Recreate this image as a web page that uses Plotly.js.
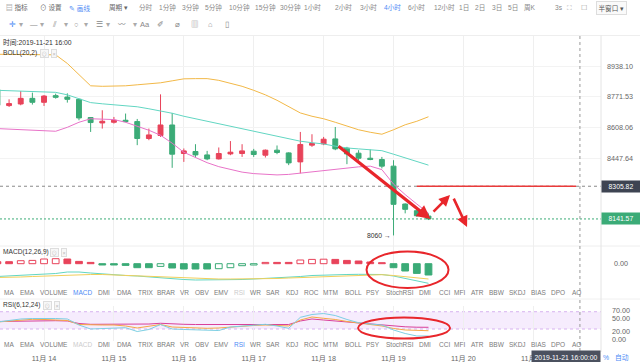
<!DOCTYPE html>
<html><head><meta charset="utf-8">
<script src="https://cdn.plot.ly/plotly-3.0.1.min.js"></script>
<style>html,body{margin:0;padding:0;background:#fff}#chart{width:640px;height:362px}</style>
</head><body><div id="chart"></div>
<script>
// ---------- DATA ----------
const times = [
 '2019-11-13 08:00','2019-11-13 12:00','2019-11-13 16:00','2019-11-13 20:00',
 '2019-11-14 00:00','2019-11-14 04:00','2019-11-14 08:00','2019-11-14 12:00','2019-11-14 16:00','2019-11-14 20:00',
 '2019-11-15 00:00','2019-11-15 04:00','2019-11-15 08:00','2019-11-15 12:00','2019-11-15 16:00','2019-11-15 20:00',
 '2019-11-16 00:00','2019-11-16 04:00','2019-11-16 08:00','2019-11-16 12:00','2019-11-16 16:00','2019-11-16 20:00',
 '2019-11-17 00:00','2019-11-17 04:00','2019-11-17 08:00','2019-11-17 12:00','2019-11-17 16:00','2019-11-17 20:00',
 '2019-11-18 00:00','2019-11-18 04:00','2019-11-18 08:00','2019-11-18 12:00','2019-11-18 16:00','2019-11-18 20:00',
 '2019-11-19 00:00','2019-11-19 04:00','2019-11-19 08:00','2019-11-19 12:00'];
const openP  = [8810.8,8725.3,8733.8,8763.9,8742.8,8778.4,8770.8,8758.7,8661.7,8633.2,8636.9,8647.4,8640.5,8551.6,8567.2,8622.5,8473.6,8484.0,8466.3,8445.6,8471.5,8473.6,8485.6,8464.8,8490.8,8476.7,8430.3,8516.8,8523.5,8549.5,8501.2,8475.2,8449.2,8442.5,8408.4,8216.0,8182.5,8155.9];
const highP  = [8837.97,8758.7,8803.2,8794.6,8781.6,8789.2,8790.8,8762.4,8663.0,8700.4,8664.9,8682.9,8654.3,8603.5,8785.4,8686.1,8499.6,8521.9,8487.1,8504.8,8538.2,8521.9,8497.5,8494.4,8515.2,8480.0,8585.9,8573.9,8559.9,8611.9,8508.0,8490.8,8494.4,8455.9,8439.0,8219.5,8189.5,8169.4];
const lowP   = [8716.3,8717.9,8726.9,8730.6,8723.2,8762.4,8741.2,8647.4,8585.9,8603.5,8630.0,8636.9,8516.8,8542.7,8559.9,8399.7,8430.3,8455.9,8439.0,8442.5,8464.8,8455.9,8455.9,8452.8,8470.0,8413.5,8371.2,8508.0,8516.8,8490.8,8418.6,8439.0,8439.0,8396.7,8060,8169.4,8152.5,8136.0];
const closeP = [8726.9,8735.9,8763.9,8742.8,8776.2,8769.3,8758.7,8659.6,8635.3,8642.2,8647.4,8640.5,8551.6,8570.3,8622.5,8470.0,8487.1,8466.3,8445.6,8473.6,8480.4,8487.1,8468.4,8490.8,8478.8,8425.2,8520.4,8525.6,8548.0,8497.5,8471.5,8449.2,8442.5,8408.4,8214.5,8189.5,8157.4,8141.57];

const bollUpper = [9003,9002,9002,9001,9001,9000,8952.7,8891.7,8831.3,8828.6,8828.6,8831.3,8836.7,8842.1,8847.5,8858.2,8869.0,8870.1,8870.1,8860.9,8844.8,8828.6,8807.0,8782.7,8753.4,8721.6,8686.1,8668.6,8655.4,8636.8,8615.6,8597.3,8584.3,8573.9,8597.3,8623.6,8642.1,8665.9];
const bollMid   = [8807.0,8805.4,8804.3,8801.6,8798.9,8796.2,8782.7,8761.3,8741.2,8734.8,8730.6,8724.2,8718.9,8708.3,8697.7,8684.5,8668.6,8655.4,8642.1,8628.9,8615.6,8602.5,8592.1,8579.1,8566.1,8550.5,8537.5,8529.7,8523.0,8511.6,8502.2,8497.5,8493.4,8488.2,8470.0,8451.8,8432.3,8413.5];
const bollLower = [8603.5,8600.9,8597.3,8594.7,8592.1,8589.5,8610.3,8636.8,8655.4,8653.8,8651.1,8636.8,8615.6,8594.7,8568.7,8527.1,8479.8,8451.7,8426.2,8405.8,8390.5,8377.8,8370.2,8365.1,8363.5,8366.1,8372.7,8380.4,8388.0,8394.1,8399.7,8404.8,8408.4,8390.5,8316.6,8263.5,8216.0,8170.4];

const macdHist = [10,10,15,16.5,23.5,25,23.5,11.5,6.5,-6.5,-6.5,-8.5,-20,-20,-13.5,-21.5,-26.5,-26.5,-26.5,-25,-20,-10,-6.5,6.5,6.5,6.5,18.5,21.5,22.5,21.5,16.5,13.5,8.5,5,-20,-36.5,-48.5,-56.5];
const macdDif  = [-64,-61.5,-59,-56.5,-54,-49,-41.5,-41.5,-46.5,-51.5,-56.5,-59,-61.5,-66.5,-71.5,-76.5,-79,-81.5,-81.5,-81.5,-81.5,-79,-76.5,-74,-71.5,-69,-64,-59,-56.5,-55.5,-54,-53,-53,-54,-61.5,-74,-86.5,-98];
const macdDea  = [-69,-69,-66.5,-64,-61.5,-59,-56.5,-54,-54,-54,-56.5,-59,-61.5,-64,-66.5,-69,-71.5,-74,-76.5,-76.5,-76.5,-76.5,-76.5,-76.5,-74,-71.5,-69,-66.5,-64,-61.5,-59,-56.5,-55.5,-55,-59,-64,-70.5,-76.5];

const rsi6  = [42.3,46.0,49.7,50.9,51.4,50.9,49.7,35.0,25.2,26.4,28.4,28.4,19.1,24.0,36.2,25.2,24.0,22.8,22.0,21.5,30.1,32.6,35.0,36.7,32.6,26.9,53.8,60.7,63.1,58.2,48.5,40.6,37.4,35.0,22.8,14.2,8.1,8.1];
const rsi12 = [42.3,44.8,47.2,48.9,48.5,47.2,46.0,36.2,35.0,35.0,35.0,32.6,27.7,32.6,36.2,30.1,28.9,27.7,26.9,27.7,30.1,32.6,33.8,35.0,33.8,32.6,47.2,54.6,51.4,48.5,43.6,39.2,36.2,32.6,26.4,22.8,21.5,21.0];
const rsi24 = [43.6,44.1,44.8,45.3,45.5,45.5,44.8,38.7,36.7,36.7,36.7,36.7,36.2,37.4,39.2,37.4,36.7,36.2,36.2,36.2,36.7,37.4,37.4,37.4,37.4,36.2,44.8,49.7,47.2,44.8,42.3,39.2,36.7,34.3,32.6,30.6,29.6,29.4];

const dayTicks  = ['2019-11-14','2019-11-15','2019-11-16','2019-11-17','2019-11-18','2019-11-19','2019-11-20','2019-11-21'];
const dayLabels = ['11月 14','11月 15','11月 16','11月 17','11月 18','11月 19','11月 20','11月 21'];
const priceTicks = [8938.10, 8771.53, 8608.06, 8447.64];
const priceTickText = ['8938.10','8771.53','8608.06','8447.64'];
const rsiTicks = [0, 20, 50, 70];
const rsiTickText = ['0.00','20.00','50.00','70.00'];

const crossTime = '2019-11-21 16:00';
const crossPrice = 8305.82;
const lastPrice = 8141.57;
const highMark = ['2019-11-13 08:00', 8837.97];
const lowMark  = ['2019-11-19 00:00', 8060];
const drawnLine = {from:'2019-11-19 08:00', to:'2019-11-21 14:40', price:8305.82};
const trendArrows = [
  {from:['2019-11-18 04:36', 8516.8], to:['2019-11-19 12:42', 8140.9], w:3.2},
  {from:['2019-11-19 13:13', 8170.9], to:['2019-11-19 19:24', 8261.0], w:2.6},
  {from:['2019-11-19 20:26', 8251.0], to:['2019-11-20 01:14', 8101.6], w:2.6}
];
const macdCircle = {x0:'2019-11-18 14:44', x1:'2019-11-19 18:53', y0:-121.5, y1:61};
const rsiCircle  = {x0:'2019-11-18 11:49', x1:'2019-11-19 19:24', y0:2, y1:53.4};
const rsiBand = [25.2, 67.5];

const xRange = ['2019-11-13 08:53', '2019-11-21 23:14'];

const toolbar1 = [
 ['▤ 指标',4,'#666'],['⊙ 设置',38,'#666'],['✎ 画线',67,'#4e8cf5'],['周期 ▾',107,'#666'],
 ['分时',137,'#888'],['1分钟',157,'#888'],['3分钟',180,'#888'],['5分钟',203,'#888'],['10分钟',227,'#888'],
 ['15分钟',253,'#888'],['30分钟',278,'#888'],['1小时',302,'#888'],['2小时',333,'#888'],['3小时',358,'#888'],
 ['4小时',382,'#4e8cf5'],['6小时',406,'#888'],['12小时',432,'#888'],['1日',457,'#888'],['2日',473,'#888'],
 ['3日',490,'#888'],['5日',506,'#888'],['周K',522,'#888'],['3s',553,'#888'],['⛶',565,'#999'],['☐',579,'#999']
];
const toolbar2 = [
 ['✛',7,'#4e8cf5'],['▾',17,'#aaa'],['—',28,'#888'],['▾',38,'#aaa'],['⫽',50,'#888'],['▾',62,'#aaa'],
 ['○',72,'#888'],['▾',82,'#aaa'],['☰',94,'#888'],['▾',104,'#aaa'],['〰',116,'#888'],['▾',131,'#aaa'],
 ['Aa',138,'#888'],['✐',155,'#888'],['⌀',173,'#888'],['▥',189,'#888'],['⌂',206,'#888'],['▯',223,'#888']
];
const tabWords = ['MA','EMA','VOLUME','MACD','DMI','DMA','TRIX','BRAR','VR','OBV','EMV','RSI','WR','SAR','KDJ','ROC','MTM','BOLL','PSY','StochRSI','DMI','CCI','MFI','ATR','BBW','SKDJ','BIAS','DPO','AO'];
const tabCenters = [9.2,27,53.7,82.8,104.3,124.2,145,166.3,184.8,201.7,221.7,239.7,255.7,273,292.3,311.2,330.8,353,373,400,425,444.3,459.7,477.5,496.7,517.5,538.3,558.3,576.8];

// ---------- LAYOUT HELPERS ----------
const W = 640, H = 362, PLOT_R = 601;
const px = x => x / W, py = y => 1 - y / H;
const RED = '#e8435a', GREEN = '#3bab77', ARROW = '#e8262b';
const FONT = 'Liberation Sans, Noto Sans CJK SC, sans-serif';

function ann(text, x, y, o) {
  return Object.assign({xref:'paper', yref:'paper', x:px(x), y:py(y), text:text, showarrow:false,
    xanchor:'left', yanchor:'middle', font:{size:6.6, color:'#777', family:FONT}}, o || {});
}

// ---------- TRACES ----------
const candle = {
  type:'candlestick', x:times, open:openP, high:highP, low:lowP, close:closeP,
  xaxis:'x', yaxis:'y', hoverinfo:'none',
  increasing:{line:{color:RED, width:1}, fillcolor:RED},
  decreasing:{line:{color:GREEN, width:1}, fillcolor:GREEN},
  whiskerwidth:0
};
const bollLine = (y, c) => ({type:'scatter', mode:'lines', x:times, y:y, xaxis:'x', yaxis:'y',
  line:{color:c, width:1}, hoverinfo:'none'});

const macdFill = macdHist.map((v,i) => {
  const col = v >= 0 ? RED : GREEN;
  const hollow = i > 0 && v > macdHist[i-1];
  return hollow ? '#ffffff' : col;
});
const macdLineCol = macdHist.map(v => v >= 0 ? RED : GREEN);
const macdBars = {type:'bar', x:times, y:macdHist, xaxis:'x', yaxis:'y2', width:4*3600*1000*0.58,
  marker:{color:macdFill, line:{color:macdLineCol, width:1}}, hoverinfo:'none'};
const macdL = (y,c) => ({type:'scatter', mode:'lines', x:times, y:y, xaxis:'x', yaxis:'y2',
  line:{color:c, width:1}, hoverinfo:'none'});
const rsiL = (y,c) => ({type:'scatter', mode:'lines', x:times, y:y, xaxis:'x', yaxis:'y3',
  line:{color:c, width:1}, hoverinfo:'none'});
const hLine = (price, c, dash, w) => ({type:'scatter', mode:'lines', x:xRange, y:[price, price],
  xaxis:'x', yaxis:'y', line:{color:c, width:w, dash:dash}, hoverinfo:'none'});

const traces = [
  hLine(crossPrice, '#8a8a8a', '3px,3px', 1),
  hLine(lastPrice, GREEN, '2px,2px', 1),
  candle,
  bollLine(bollUpper, '#f2b847'),
  bollLine(bollMid, '#62d6c2'),
  bollLine(bollLower, '#e873c8'),
  {type:'scatter', mode:'lines', x:[drawnLine.from, drawnLine.to], y:[drawnLine.price, drawnLine.price],
   xaxis:'x', yaxis:'y', line:{color:'#ea3a3a', width:1.6}, hoverinfo:'none'},
  macdBars,
  macdL(macdDif, '#62d6c2'),
  macdL(macdDea, '#f2cf5b'),
  rsiL(rsi24, '#d9409a'),
  rsiL(rsi12, '#f5a845'),
  rsiL(rsi6, '#7dcfe3')
];

// ---------- ANNOTATIONS ----------
const annotations = [];
toolbar1.forEach(([t,x,c]) => annotations.push(ann(t, x, 8, {font:{size:6.6, color:c, family:FONT}})));
annotations.push(ann('半窗口 ▾', 596, 8, {font:{size:6.6, color:'#555', family:FONT},
  bordercolor:'#dddddd', borderwidth:1, borderpad:1.5, bgcolor:'#fafafa'}));
toolbar2.forEach(([t,x,c]) => annotations.push(ann(t, x, 25, {font:{size:7.5, color:c, family:FONT}})));

annotations.push(ann('时间:2019-11-21 16:00', 1, 42.5, {font:{size:6.8, color:'#333', family:FONT}}));
const legendLabel = (t, y, bx) => {
  annotations.push(ann(t, 1, y, {font:{size:6.6, color:'#333', family:FONT}}));
  annotations.push(ann('⊙', bx, y, {font:{size:5.5, color:'#bbb', family:FONT}, bordercolor:'#dddddd', borderwidth:1, borderpad:0.5, bgcolor:'#f7f7f7'}));
  annotations.push(ann('×', bx+11, y, {font:{size:5.5, color:'#bbb', family:FONT}, bordercolor:'#dddddd', borderwidth:1, borderpad:0.5, bgcolor:'#f7f7f7'}));
};
legendLabel('BOLL(20,2)', 53, 40);
legendLabel('MACD(12,26,9)', 252, 50);
legendLabel('RSI(6,12,24)', 305, 43);

tabWords.forEach((w,i) => {
  const c1 = w === 'MACD' ? '#4e8cf5' : (w === 'RSI' ? '#cccccc' : '#7a7a7a');
  const c2 = w === 'RSI' ? '#4e8cf5' : (w === 'MACD' ? '#cccccc' : '#7a7a7a');
  annotations.push(ann(w, tabCenters[i], 292, {xanchor:'center', font:{size:6.5, color:c1, family:FONT}}));
  annotations.push(ann(w, tabCenters[i], 344.5, {xanchor:'center', font:{size:6.5, color:c2, family:FONT}}));
});

annotations.push({xref:'x', yref:'y', x:highMark[0], y:Math.log10(highMark[1]), text:'← ' + highMark[1].toFixed(2),
  showarrow:false, xanchor:'left', yanchor:'middle', xshift:3, font:{size:6.8, color:'#333', family:FONT}});
annotations.push({xref:'x', yref:'y', x:lowMark[0], y:Math.log10(lowMark[1]), text:lowMark[1] + ' →',
  showarrow:false, xanchor:'right', yanchor:'middle', xshift:-1, font:{size:6.8, color:'#333', family:FONT}});

annotations.push({xref:'paper', yref:'y', x:px(620.5), y:Math.log10(crossPrice), text:crossPrice.toFixed(2),
  showarrow:false, xanchor:'center', yanchor:'middle', bgcolor:'#3e4452', width:36, height:9,
  font:{size:6.8, color:'#ffffff', family:FONT}});
annotations.push({xref:'paper', yref:'y', x:px(620.5), y:Math.log10(lastPrice), text:lastPrice.toFixed(2),
  showarrow:false, xanchor:'center', yanchor:'middle', bgcolor:GREEN, width:36, height:9,
  font:{size:6.8, color:'#ffffff', family:FONT}});
annotations.push(ann('2019-11-21 16:00:00', PLOT_R, 356.5, {xanchor:'right', bgcolor:'#4b515f', width:66, height:10,
  font:{size:6.8, color:'#ffffff', family:FONT}}));
annotations.push(ann('%', 601, 357, {font:{size:6.8, color:'#4e8cf5', family:FONT}}));
annotations.push(ann('自动', 613, 357, {font:{size:6.8, color:'#4e8cf5', family:FONT}}));

trendArrows.forEach(a => annotations.push({xref:'x', yref:'y', axref:'x', ayref:'y',
  x:a.to[0], y:Math.log10(a.to[1]), ax:a.from[0], ay:Math.log10(a.from[1]), text:'',
  showarrow:true, arrowhead:2, arrowsize:0.85, arrowwidth:a.w, arrowcolor:ARROW, standoff:0}));

// ---------- SHAPES ----------
const shapes = [
  {type:'line', xref:'paper', yref:'paper', x0:0, x1:1, y0:py(35.5), y1:py(35.5), line:{color:'#eeeeee', width:1}},
  {type:'line', xref:'paper', yref:'paper', x0:0, x1:1, y0:py(246), y1:py(246), line:{color:'#eeeeee', width:1}},
  {type:'line', xref:'paper', yref:'paper', x0:0, x1:1, y0:py(299), y1:py(299), line:{color:'#f0f0f0', width:1}},
  {type:'line', xref:'paper', yref:'paper', x0:px(PLOT_R), x1:px(PLOT_R), y0:py(352), y1:py(35.5), line:{color:'#e4e4e4', width:1}},
  {type:'rect', xref:'paper', yref:'y3', x0:0, x1:px(PLOT_R), y0:rsiBand[0], y1:rsiBand[1], layer:'below',
   fillcolor:'rgba(214,170,245,0.22)', line:{width:0}},
  {type:'line', xref:'paper', yref:'y3', x0:0, x1:px(PLOT_R), y0:rsiBand[1], y1:rsiBand[1], layer:'below', line:{color:'#d7b2ef', width:1, dash:'3px,3px'}},
  {type:'line', xref:'paper', yref:'y3', x0:0, x1:px(PLOT_R), y0:rsiBand[0], y1:rsiBand[0], layer:'below', line:{color:'#d7b2ef', width:1, dash:'3px,3px'}},
  {type:'line', xref:'x', yref:'paper', x0:crossTime, x1:crossTime, y0:py(351), y1:py(36), line:{color:'#999999', width:1, dash:'3px,3px'}},
  {type:'circle', xref:'x', yref:'y2', x0:macdCircle.x0, x1:macdCircle.x1, y0:macdCircle.y0, y1:macdCircle.y1, line:{color:ARROW, width:2}},
  {type:'circle', xref:'x', yref:'y3', x0:rsiCircle.x0, x1:rsiCircle.x1, y0:rsiCircle.y0, y1:rsiCircle.y1, line:{color:ARROW, width:2}}
];

const axFont = {size:7.2, color:'#666', family:FONT};
const layout = {
  width:W, height:H, margin:{l:0, r:0, t:0, b:0}, autosize:false,
  paper_bgcolor:'#ffffff', plot_bgcolor:'rgba(0,0,0,0)', showlegend:false, hovermode:false,
  font:{family:FONT, size:7, color:'#666'}, boxgap:0.4,
  xaxis:{type:'date', domain:[0, px(PLOT_R)], range:xRange, anchor:'y3', tickvals:dayTicks, ticktext:dayLabels,
    showgrid:true, gridcolor:'#efefef', gridwidth:1, zeroline:false, showline:false, ticks:'',
    ticklabelstandoff:12, tickfont:axFont, rangeslider:{visible:false}, fixedrange:true},
  yaxis:{type:'log', domain:[py(246), py(35.5)], range:[3.90353, 3.95937], side:'right', anchor:'x',
    tickvals:priceTicks, ticktext:priceTickText, showgrid:true, gridcolor:'#f3f3f3', zeroline:false,
    showline:false, ticks:'', ticklabelstandoff:5, tickfont:axFont, fixedrange:true},
  yaxis2:{domain:[py(291), py(246)], range:[-136.5, 88.5], side:'right', anchor:'x', tickvals:[0], ticktext:['0.00'],
    showgrid:false, zeroline:false, showline:false, ticks:'', ticklabelstandoff:12, tickfont:axFont, fixedrange:true},
  yaxis3:{domain:[py(341), py(306)], range:[-4.16, 81.5], side:'right', anchor:'x', tickvals:rsiTicks, ticktext:rsiTickText,
    showgrid:false, zeroline:false, showline:false, ticks:'', ticklabelstandoff:10, tickfont:axFont, fixedrange:true},
  annotations:annotations, shapes:shapes
};
Plotly.newPlot('chart', traces, layout, {displayModeBar:false, staticPlot:true});
</script></body></html>
